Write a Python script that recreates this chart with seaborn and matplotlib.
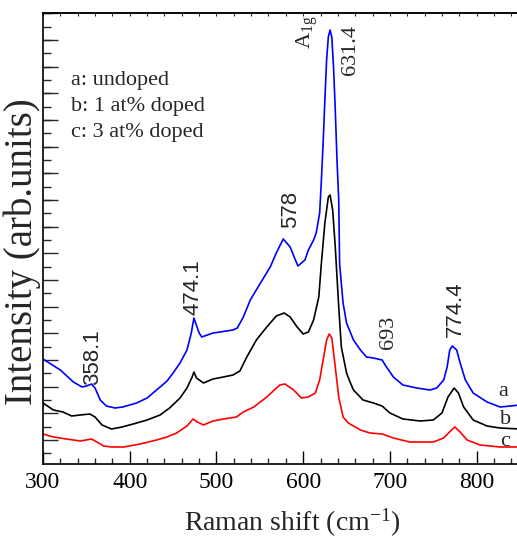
import numpy as np
import pandas as pd
import matplotlib
matplotlib.use("Agg")
import matplotlib.pyplot as plt
import seaborn as sns
from matplotlib.ticker import MultipleLocator, NullFormatter

# ---- data (Raman shift in cm^-1, intensity in arbitrary units) ----
shift_a = [300, 320, 335, 345, 350, 356, 360, 366, 373, 383, 392, 408, 420, 435, 443,
           450, 458, 466, 471, 474, 480, 483, 496, 504, 519, 524, 531, 539, 550, 562,
           569, 577, 585, 591, 594, 602, 606, 612, 615, 619, 621, 623, 625, 627, 629,
           631, 633, 635, 637, 639, 641, 642, 646, 650, 658, 666, 673, 681, 691, 696,
           704, 715, 731, 746, 754, 762, 766, 769, 772, 777, 781, 787, 796, 812, 827,
           839, 850]
int_a = [105, 94, 82, 77, 78, 80, 76, 64, 58, 56, 57, 61, 66, 77, 83,
         91, 101, 114, 131, 146, 131, 127, 131, 132, 134, 136, 147, 164, 180, 197,
         211, 225, 217, 204, 198, 204, 214, 224, 231, 251, 284, 321, 364, 404, 427,
         434, 427, 397, 354, 304, 264, 200, 161, 141, 124, 114, 107, 106, 104, 97,
         87, 79, 76, 74, 76, 84, 97, 114, 118, 114, 101, 84, 71, 62, 57,
         58, 59]

shift_b = [300, 312, 323, 333, 343, 354, 360, 368, 379, 391, 404, 420, 435, 446, 458,
           466, 472, 474, 477, 485, 496, 508, 519, 527, 535, 546, 558, 569, 578, 585,
           593, 600, 606, 612, 618, 621, 625, 629, 631, 634, 637, 641, 644, 650, 654,
           658, 669, 681, 691, 700, 715, 735, 750, 760, 767, 774, 779, 785, 796, 812,
           827, 850]
int_b = [61, 54, 52, 48, 49, 50, 47, 39, 35, 37, 40, 44, 49, 56, 66,
         76, 87, 92, 86, 81, 85, 87, 89, 93, 107, 124, 137, 148, 151, 147,
         137, 130, 132, 144, 167, 201, 241, 267, 269, 254, 217, 157, 117, 91, 82,
         74, 64, 61, 58, 51, 45, 43, 44, 51, 67, 76, 71, 57, 44, 38,
         36, 35]

shift_c = [300, 312, 327, 343, 356, 362, 370, 379, 393, 412, 431, 443, 454, 466, 473,
           478, 485, 496, 508, 523, 531, 543, 558, 573, 579, 589, 598, 606, 614, 619,
           623, 627, 630, 633, 637, 641, 646, 652, 666, 677, 691, 704, 723, 750, 762,
           771, 775, 781, 789, 804, 827, 850]
int_c = [30, 27, 25, 23, 25, 22, 18, 17, 17, 20, 24, 27, 31, 38, 45,
         42, 39, 43, 45, 47, 52, 57, 67, 79, 80, 74, 66, 67, 71, 84,
         104, 124, 130, 126, 97, 67, 47, 41, 34, 31, 30, 26, 22, 22, 26,
         34, 37, 32, 24, 19, 17, 17]

series_names = ["a", "b", "c"]
series_colors = ["#0000ff", "#000000", "#ff0000"]
legend_lines = ["a: undoped", "b: 1 at% doped", "c: 3 at% doped"]

peak_labels = ["358.1", "474.1", "578", "631.4", "693", "774.4"]
peak_pos = [(357, 107), (473, 177), (585, 255), (655, 414), (698, 132), (775, 155)]
peak_family = ["Liberation Sans", "Liberation Sans", "Liberation Sans",
               "Liberation Serif", "Liberation Serif", "Liberation Sans"]

df = pd.concat([
    pd.DataFrame({"shift": shift_a, "intensity": int_a, "sample": "a"}),
    pd.DataFrame({"shift": shift_b, "intensity": int_b, "sample": "b"}),
    pd.DataFrame({"shift": shift_c, "intensity": int_c, "sample": "c"}),
], ignore_index=True)

sns.set_theme(style="ticks")
plt.rcParams["font.family"] = ["Liberation Serif", "DejaVu Serif"]
plt.rcParams["mathtext.fontset"] = "custom"
plt.rcParams["mathtext.rm"] = "Liberation Serif"
plt.rcParams["mathtext.it"] = "Liberation Serif:italic"

fig = plt.figure(figsize=(5.17, 5.40), dpi=100)
ax = fig.add_axes([43 / 517, 76 / 540, 477 / 517, 451 / 540])

for name, col in zip(series_names, series_colors):
    sub = df[df["sample"] == name]
    sns.lineplot(data=sub, x="shift", y="intensity", color=col, lw=1.2,
                 ax=ax, legend=False)

ax.set_xlim(300, 850)
ax.set_ylim(0, 451)

ax.xaxis.set_major_locator(MultipleLocator(100))
ax.xaxis.set_minor_locator(MultipleLocator(20))
ax.yaxis.set_major_locator(MultipleLocator(26.667, offset=24))
ax.yaxis.set_minor_locator(MultipleLocator(13.333, offset=10.67))
ax.yaxis.set_major_formatter(NullFormatter())
ax.tick_params(axis="x", which="major", direction="in", length=9.5, width=1,
               labelsize=17, pad=6, colors="black")
ax.tick_params(axis="x", which="minor", direction="in", length=4.5, width=1)
ax.tick_params(axis="y", which="major", direction="in", length=11, width=1)
ax.tick_params(axis="y", which="minor", direction="in", length=6, width=1)

top = ax.secondary_xaxis("top")
top.xaxis.set_major_locator(MultipleLocator(20))
top.xaxis.set_major_formatter(NullFormatter())
top.tick_params(direction="in", length=2.2, width=0.8)
top.spines["top"].set_linewidth(1.2)

for s in ax.spines.values():
    s.set_linewidth(1.2)
    s.set_color("black")

ax.set_xlabel("Raman shift (cm$^{-1}$)", fontsize=20)
ax.xaxis.set_label_coords(0.522, -0.094)
ax.set_ylabel("Intensity (arb.units)", fontsize=28)
ax.yaxis.set_label_coords(-0.004, 0.47)

for lab, (px, py), fam in zip(peak_labels, peak_pos, peak_family):
    ax.text(px, py, lab, rotation=90, ha="center", va="center", fontsize=16,
            family=fam)
ax.text(605, 432, r"A$_{\mathrm{1g}}$", rotation=90, ha="center", va="center",
        fontsize=16)

for i, line in enumerate(legend_lines):
    ax.text(332, 384 - 26.5 * i, line, ha="left", va="center", fontsize=16)

for name, (px, py) in zip(series_names, [(830.5, 73), (833, 45), (833, 23)]):
    ax.text(px, py, name, ha="center", va="center", fontsize=16)

fig.savefig("out.png", dpi=100)
